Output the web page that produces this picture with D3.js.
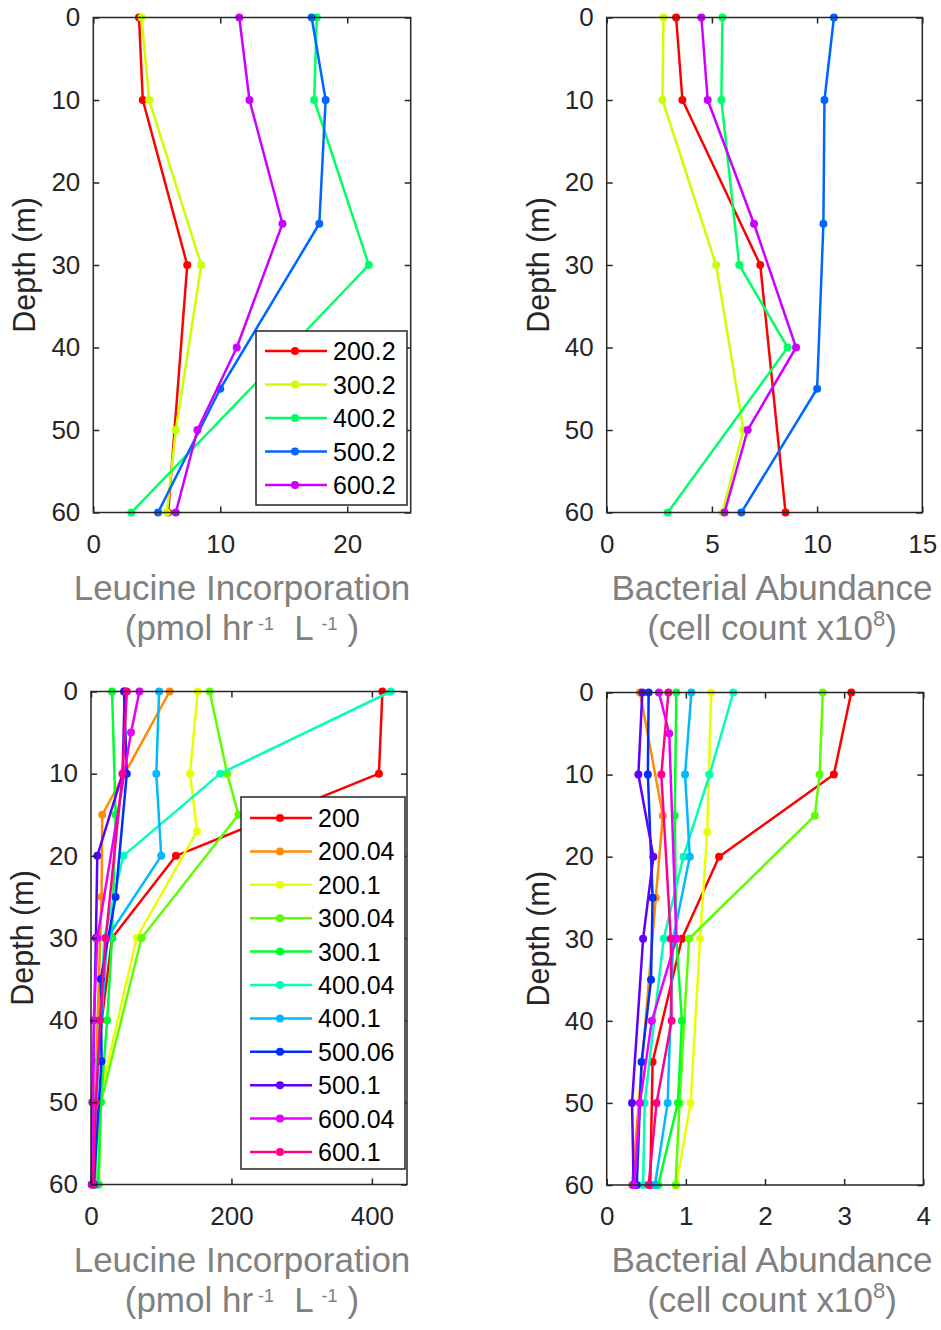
<!DOCTYPE html>
<html>
<head>
<meta charset="utf-8">
<script src="https://cdn.jsdelivr.net/npm/d3@7"></script>
<style>
  body { margin: 0; background: #fff; }
  svg { display: block; }
  text { font-family: "Liberation Sans", Arial, sans-serif; }
</style>
</head>
<body>
<div id="chart"></div>
<script>
// depth ticks, shared by all four panels
const depthTicks = [0, 10, 20, 30, 40, 50, 60];

// top row: five stations
const topNames = ["200.2", "300.2", "400.2", "500.2", "600.2"];
const topDepths = [
  [0, 10, 30, 60],
  [0, 10, 30, 50, 60],
  [0, 10, 30, 40, 60],
  [0, 10, 25, 45, 60],
  [0, 10, 25, 40, 50, 60]
];
const topLeucine = [
  [3.6, 3.9, 7.4, 5.9],
  [3.8, 4.4, 8.5, 6.5, 5.8],
  [17.6, 17.4, 21.7, 15.5, 3.0],
  [17.2, 18.3, 17.8, 10.0, 5.1],
  [11.5, 12.3, 14.9, 11.3, 8.2, 6.5]
];
const topAbundance = [
  [3.3, 3.6, 7.3, 8.5],
  [2.7, 2.65, 5.2, 6.5, 5.5],
  [5.5, 5.45, 6.3, 8.6, 2.9],
  [10.8, 10.35, 10.3, 10.0, 6.4],
  [4.5, 4.8, 7.0, 9.0, 6.7, 5.6]
];
const topLeucineTicks = [0, 10, 20];
const topAbundanceTicks = [0, 5, 10, 15];

// bottom row: eleven stations
const botNames = ["200", "200.04", "200.1", "300.04", "300.1", "400.04",
                  "400.1", "500.06", "500.1", "600.04", "600.1"];
const botDepths = [
  [0, 10, 20, 30, 45, 60],
  [0, 15, 25, 60],
  [0, 10, 17, 30, 50, 60],
  [0, 10, 15, 30, 50, 60],
  [0, 15, 30, 40, 50, 60],
  [0, 10, 20, 30, 50, 60],
  [0, 10, 20, 30, 50, 60],
  [0, 10, 25, 35, 45, 60],
  [0, 10, 20, 30, 50, 60],
  [0, 5, 30, 40, 50, 60],
  [0, 10, 30, 40, 50, 60]
];
const botLeucine = [
  [415, 410, 121, 30, 8, 4],
  [112, 16, 15, 2],
  [152, 141, 151, 65, 11, 8],
  [169, 194, 210, 72, 14, 11],
  [30, 35, 30, 23, 14, 10],
  [427, 184, 46, 19, 6, 5],
  [97, 93, 100, 23, 7, 6],
  [47, 51, 35, 14, 15, 4],
  [48, 45, 9, 7, 2, 1],
  [69, 57, 9, 4, 3, 2],
  [51, 45, 21, 13, 7, 3]
];
const botAbundance = [
  [3.09, 2.87, 1.42, 0.95, 0.58, 0.55],
  [0.42, 0.71, 0.62, 0.32],
  [1.32, 1.29, 1.27, 1.18, 1.06, 0.88],
  [2.73, 2.69, 2.63, 1.04, 0.92, 0.87],
  [0.88, 0.86, 0.88, 0.95, 0.90, 0.65],
  [1.60, 1.30, 0.97, 0.72, 0.48, 0.46],
  [1.07, 0.99, 1.05, 0.84, 0.77, 0.61],
  [0.53, 0.52, 0.58, 0.56, 0.44, 0.38],
  [0.45, 0.40, 0.59, 0.46, 0.32, 0.34],
  [0.66, 0.79, 0.88, 0.57, 0.42, 0.35],
  [0.78, 0.69, 0.81, 0.82, 0.63, 0.53]
];
const botLeucineTicks = [0, 200, 400];
const botAbundanceTicks = [0, 1, 2, 3, 4];

// matlab-like hsv colormap
const hsvColors = n => d3.range(n).map(i => d3.hsl(i * 360 / n, 1, 0.5).formatHex());
const topColors = hsvColors(5);
const botColors = hsvColors(11);

const ink = "#262626";
const gray = "#808080";

const svg = d3.select("#chart").append("svg")
  .attr("width", 941)
  .attr("height", 1330);

drawPanel = (p) => {
  const x = d3.scaleLinear().domain(p.xDomain).range([p.left, p.right]);
  const y = d3.scaleLinear().domain([0, 60]).range([p.top, p.bottom]);
  const g = svg.append("g");

  const line = d3.line()
    .x(d => x(d[0]))
    .y(d => y(d[1]));

  p.names.forEach((name, i) => {
    const pts = p.depths[i].map((d, j) => [p.values[i][j], d]);
    const s = g.append("g");
    s.append("path")
      .datum(pts)
      .attr("fill", "none")
      .attr("stroke", p.colors[i])
      .attr("stroke-width", 2.5)
      .attr("stroke-linejoin", "round")
      .attr("d", line);
    s.selectAll("circle")
      .data(pts)
      .join("circle")
      .attr("cx", d => x(d[0]))
      .attr("cy", d => y(d[1]))
      .attr("r", 4)
      .attr("fill", p.colors[i]);
  });

  // box with inward ticks on all four sides
  const fmt = d3.format("~g");
  g.append("g")
    .attr("transform", `translate(0,${p.bottom})`)
    .call(d3.axisBottom(x).tickValues(p.xTicks).tickFormat(fmt).tickSize(-6).tickPadding(22));
  g.append("g")
    .attr("transform", `translate(0,${p.top})`)
    .call(d3.axisTop(x).tickValues(p.xTicks).tickSize(-6).tickFormat(""));
  g.append("g")
    .attr("transform", `translate(${p.left},0)`)
    .call(d3.axisLeft(y).tickValues(depthTicks).tickFormat(fmt).tickSize(-6).tickPadding(13));
  g.append("g")
    .attr("transform", `translate(${p.right},0)`)
    .call(d3.axisRight(y).tickValues(depthTicks).tickSize(-6).tickFormat(""));
  g.selectAll(".domain").remove();
  g.selectAll(".tick line").attr("stroke", ink).attr("stroke-width", 1.5);
  g.selectAll(".tick text").attr("font-size", 26).attr("fill", ink);
  g.append("rect")
    .attr("x", p.left)
    .attr("y", p.top)
    .attr("width", p.right - p.left)
    .attr("height", p.bottom - p.top)
    .attr("fill", "none")
    .attr("stroke", ink)
    .attr("stroke-width", 1.5);

  // y label
  g.append("text")
    .attr("transform", `translate(${p.left - 58},${(p.top + p.bottom) / 2}) rotate(-90)`)
    .attr("text-anchor", "middle")
    .attr("font-size", 30.5)
    .attr("fill", ink)
    .text("Depth (m)");

  // legend
  if (p.legend) {
    const L = p.legend;
    const lg = g.append("g");
    lg.append("rect")
      .attr("x", L.x).attr("y", L.y)
      .attr("width", L.w).attr("height", L.h)
      .attr("fill", "#fff")
      .attr("stroke", ink)
      .attr("stroke-width", 1.5);
    const rows = lg.selectAll(".row")
      .data(p.names)
      .join("g")
      .attr("transform", (d, i) => `translate(${L.x},${L.y + L.first + i * L.step})`);
    rows.append("line")
      .attr("x1", 9).attr("x2", 71)
      .attr("stroke", (d, i) => p.colors[i])
      .attr("stroke-width", 2.5);
    rows.append("circle")
      .attr("cx", 39).attr("r", 4)
      .attr("fill", (d, i) => p.colors[i]);
    rows.append("text")
      .attr("x", 77).attr("dy", "0.36em")
      .attr("font-size", 25)
      .attr("fill", "#000")
      .text(d => d);
  }

  // x title, two lines
  const t = g.append("g").attr("fill", gray).attr("font-size", 35).attr("text-anchor", "middle");
  t.append("text").attr("x", p.titleX).attr("y", p.bottom + 87).text(p.title);
  const t2 = t.append("text").attr("x", p.titleX).attr("y", p.bottom + 127);
  p.unit(t2);
};

leucineUnit = (el) => {
  el.append("tspan").text("(pmol hr");
  el.append("tspan").attr("dx", 5).attr("dy", -10).attr("font-size", 18).text("-1");
  el.append("tspan").attr("dx", 20).attr("dy", 10).text("L");
  el.append("tspan").attr("dx", 8).attr("dy", -10).attr("font-size", 18).text("-1");
  el.append("tspan").attr("dx", 10).attr("dy", 10).text(")");
};

abundanceUnit = (el) => {
  el.append("tspan").text("(cell count x10");
  el.append("tspan").attr("dy", -14).attr("font-size", 22).text("8");
  el.append("tspan").attr("dy", 14).text(")");
};

drawPanel({
  left: 93.3, right: 410.7, top: 17.5, bottom: 512.5,
  xDomain: [0, 25], xTicks: topLeucineTicks,
  names: topNames, depths: topDepths, values: topLeucine, colors: topColors,
  legend: { x: 256, y: 331, w: 151, h: 174, first: 20, step: 33.5 },
  title: "Leucine Incorporation", unit: leucineUnit, titleX: 242
});

drawPanel({
  left: 606.7, right: 922.3, top: 17.5, bottom: 512.5,
  xDomain: [0, 15], xTicks: topAbundanceTicks,
  names: topNames, depths: topDepths, values: topAbundance, colors: topColors,
  legend: null,
  title: "Bacterial Abundance", unit: abundanceUnit, titleX: 772
});

drawPanel({
  left: 91, right: 407, top: 691.5, bottom: 1184.5,
  xDomain: [0, 450], xTicks: botLeucineTicks,
  names: botNames, depths: botDepths, values: botLeucine, colors: botColors,
  legend: { x: 241, y: 797, w: 164, h: 372, first: 21, step: 33.4 },
  title: "Leucine Incorporation", unit: leucineUnit, titleX: 242
});

drawPanel({
  left: 606.7, right: 923.3, top: 692.5, bottom: 1185,
  xDomain: [0, 4], xTicks: botAbundanceTicks,
  names: botNames, depths: botDepths, values: botAbundance, colors: botColors,
  legend: null,
  title: "Bacterial Abundance", unit: abundanceUnit, titleX: 772
});
</script>
</body>
</html>
